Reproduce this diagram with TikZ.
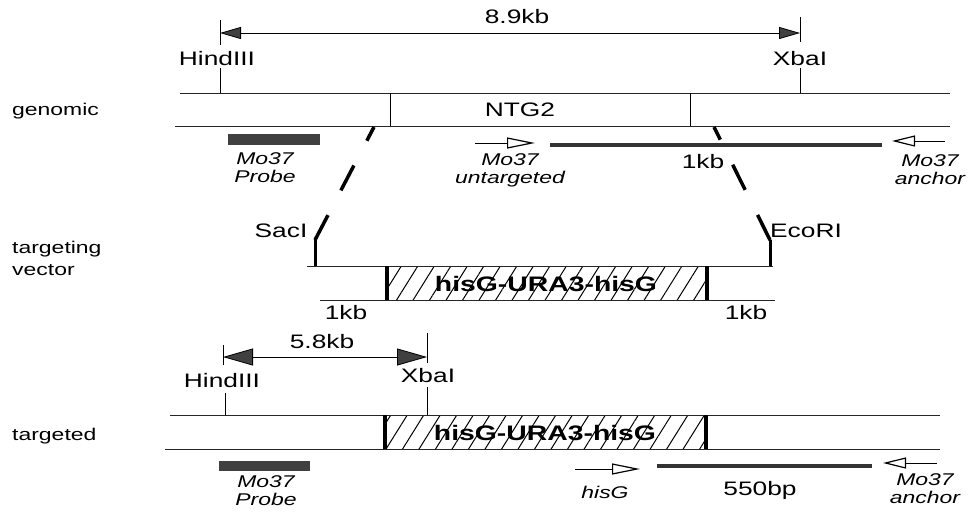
\documentclass[tikz,border=0pt]{standalone}
\usepackage{fontspec}
\setmainfont{Liberation Sans}[FakeStretch=1.35]
\usetikzlibrary{arrows.meta,patterns.meta}
\begin{document}
\begin{tikzpicture}[x=1pt,y=-1pt,
  lbl/.style={font=\fontsize{17}{18}\selectfont, inner sep=0pt},
  enz/.style={font=\fontsize{19.5}{20}\selectfont, inner sep=0pt},
  ital/.style={font=\fontsize{17}{18}\selectfont\itshape, inner sep=0pt, align=center},
  boldlbl/.style={font=\fontsize{21}{22}\selectfont\bfseries, inner sep=0pt},
  dna/.style={line width=1pt, draw=black!85},
  tickline/.style={line width=1pt},
  heavytick/.style={line width=3pt},
  probebar/.style={fill=black!75, draw=none},
  prodline/.style={line width=4pt, draw=black!80},
  dashline/.style={line width=3.5pt, dash pattern=on 28pt off 28pt},
  primer/.style={line width=0.9pt, -{Triangle[open, length=28pt, width=11pt, line width=1.2pt]}},
  dimsmall/.style={line width=0.8pt, {Triangle[length=21pt,width=12pt,fill=black!75]}-{Triangle[length=21pt,width=12pt,fill=black!75]}},
  dimbig/.style={line width=0.8pt, {Triangle[length=30pt,width=17pt,fill=black!75]}-{Triangle[length=30pt,width=17pt,fill=black!75]}},
  hatchbox/.style={pattern={Lines[angle=58,distance=14pt,line width=1pt]}},
  ]
\fill[white] (0,0) rectangle (972,512);
\useasboundingbox (0,0) rectangle (972,512);

% ================= genomic =================
\node[enz] (kb89) at (517,17) {8.9kb};
\coordinate (gHa) at (220,20); \coordinate (gHb) at (220,45);
\coordinate (gXa) at (800,17); \coordinate (gXb) at (800,42);
\draw[tickline] (gHa) -- (gHb);
\draw[tickline] (gXa) -- (gXb);
\coordinate (gDl) at (220,33); \coordinate (gDr) at (800,33);
\draw[dimsmall] (gDl) -- (gDr);
\node[enz] (gHind) at (217,59) {HindIII};
\node[enz] (gXba) at (800,59) {XbaI};
\coordinate (gHc) at (220,68); \coordinate (gHd) at (220,93);
\coordinate (gXc) at (800,68); \coordinate (gXd) at (800,93);
\draw[tickline] (gHc) -- (gHd);
\draw[tickline] (gXc) -- (gXd);
\coordinate (gT1) at (180,93); \coordinate (gT2) at (950,93);
\coordinate (gB1) at (175,126); \coordinate (gB2) at (950,126);
\draw[dna] (gT1) -- (gT2);
\draw[dna] (gB1) -- (gB2);
\coordinate (n1a) at (390,93); \coordinate (n1b) at (390,126);
\coordinate (n2a) at (690,93); \coordinate (n2b) at (690,126);
\draw[tickline] (n1a) -- (n1b);
\draw[tickline] (n2a) -- (n2b);
\node[enz] (ntg) at (520,110) {NTG2};
\node[lbl, anchor=west] (genomic) at (12,111) {genomic};
\fill[probebar] (228,134) rectangle (320,145);
\node[ital] (gprobe) at (265,168) {Mo37\\Probe};
\coordinate (uA) at (475,143); \coordinate (uB) at (535,143);
\draw[primer] (uA) -- (uB);
\node[ital] (gunt) at (510,170) {Mo37\\untargeted};
\coordinate (p1a) at (550,145); \coordinate (p1b) at (882,145);
\draw[prodline] (p1a) -- (p1b);
\node[enz] (kb1g) at (703,162) {1kb};
\coordinate (aA) at (945,141); \coordinate (aB) at (892,141);
\draw[primer, {Triangle[open, length=23pt, width=11pt, line width=1.2pt]}-] (aB) -- (aA);
\node[ital] (ganc) at (930,170) {Mo37\\anchor};

% dashed crossover lines
\coordinate (dLa) at (315,240); \coordinate (dLb) at (374,127);
\coordinate (dRa) at (770,240); \coordinate (dRb) at (714,127);
\draw[dashline] (dLa) -- (dLb);
\draw[dashline] (dRa) -- (dRb);

% ================= targeting vector =================
\node[lbl, anchor=west] (tv1) at (12,249) {targeting};
\node[lbl, anchor=west] (tv2) at (12,270) {vector};
\node[enz] (sac) at (281,231) {SacI};
\node[enz] (eco) at (806,231) {EcoRI};
\coordinate (sTa) at (315,238); \coordinate (sTb) at (315,266);
\coordinate (eTa) at (770,240); \coordinate (eTb) at (770,266);
\draw[heavytick] (sTa) -- (sTb);
\draw[heavytick] (eTa) -- (eTb);
\path[hatchbox] (387,266) rectangle (707,300);
\coordinate (vT1) at (307,266); \coordinate (vT2) at (773,266);
\coordinate (vB1) at (320,300); \coordinate (vB2) at (775,300);
\draw[dna] (vT1) -- (vT2);
\draw[dna] (vB1) -- (vB2);
\coordinate (vLa) at (387,266); \coordinate (vLb) at (387,300);
\coordinate (vRa) at (707,266); \coordinate (vRb) at (707,300);
\draw[line width=3.5pt] (vLa) -- (vLb);
\draw[line width=3.5pt] (vRa) -- (vRb);
\node[boldlbl] (vhis) at (546,284) {hisG-URA3-hisG};
\node[enz] (kb1l) at (346,313) {1kb};
\node[enz] (kb1r) at (746,313) {1kb};

% ================= targeted =================
\node[enz] (kb58) at (322,342) {5.8kb};
\coordinate (tHa) at (223,345); \coordinate (tHb) at (223,365);
\coordinate (tXa) at (427,333); \coordinate (tXb) at (427,363);
\draw[tickline] (tHa) -- (tHb);
\draw[tickline] (tXa) -- (tXb);
\coordinate (tDl) at (223,357); \coordinate (tDr) at (427,357);
\draw[dimbig] (tDl) -- (tDr);
\node[enz] (tHind) at (222,381) {HindIII};
\node[enz] (tXba) at (428,376) {XbaI};
\coordinate (tHc) at (225,393); \coordinate (tHd) at (225,415);
\coordinate (tXc) at (427,387); \coordinate (tXd) at (427,415);
\draw[tickline] (tHc) -- (tHd);
\draw[tickline] (tXc) -- (tXd);
\path[hatchbox] (385,415) rectangle (706,449);
\coordinate (tT1) at (170,415); \coordinate (tT2) at (940,415);
\coordinate (tB1) at (165,449); \coordinate (tB2) at (940,449);
\draw[dna] (tT1) -- (tT2);
\draw[dna] (tB1) -- (tB2);
\coordinate (tLa) at (385,415); \coordinate (tLb) at (385,449);
\coordinate (tRa) at (706,415); \coordinate (tRb) at (706,449);
\draw[line width=3.5pt] (tLa) -- (tLb);
\draw[line width=3.5pt] (tRa) -- (tRb);
\node[boldlbl] (this) at (545,433) {hisG-URA3-hisG};
\node[lbl, anchor=west] (targeted) at (12,436) {targeted};
\fill[probebar] (219,461) rectangle (310,471);
\node[ital] (tprobe) at (266,491) {Mo37\\Probe};
\coordinate (hA) at (575,469); \coordinate (hB) at (640,469);
\draw[primer] (hA) -- (hB);
\node[ital] (thisg) at (605,492) {hisG};
\coordinate (p2a) at (657,466); \coordinate (p2b) at (872,466);
\draw[prodline] (p2a) -- (p2b);
\node[enz] (bp550) at (760,490) {550bp};
\coordinate (a2A) at (937,463); \coordinate (a2B) at (883,463);
\draw[primer, {Triangle[open, length=23pt, width=11pt, line width=1.2pt]}-] (a2B) -- (a2A);
\node[ital] (tanc) at (925,489) {Mo37\\anchor};
\end{tikzpicture}
\end{document}
